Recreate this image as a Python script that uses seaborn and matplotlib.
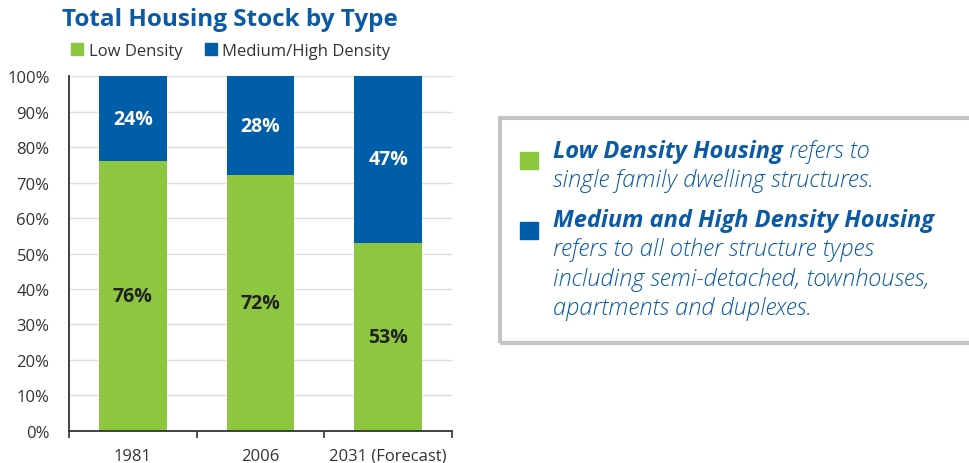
import numpy as np
import pandas as pd
import seaborn as sns
import matplotlib.pyplot as plt
from matplotlib.lines import Line2D
from matplotlib.patches import Rectangle

years = ['1981', '2006', '2031 (Forecast)']
low_density = [76, 72, 53]
med_high_density = [24, 28, 47]

green = '#8dc63f'
blue = '#005da8'
text_blue = '#0b5aa5'

sns.set_style('white')
plt.rcParams['font.family'] = ['Open Sans', 'DejaVu Sans']

df = pd.DataFrame({'year': years, 'low': low_density, 'high': med_high_density})
df['total'] = df['low'] + df['high']

fig = plt.figure(figsize=(9.69, 4.64), dpi=100)
ax = fig.add_axes([0.0712, 0.069, 0.3953, 0.765])

sns.barplot(x='year', y='total', data=df, color=blue, width=0.53, ax=ax,
            saturation=1, zorder=2, linewidth=0)
sns.barplot(x='year', y='low', data=df, color=green, width=0.53, ax=ax,
            saturation=1, zorder=2, linewidth=0)

for i, (lo, hi) in enumerate(zip(low_density, med_high_density)):
    ax.text(i, lo / 2, f'{lo}%', ha='center', va='center', fontsize=14,
            fontweight='bold', color='#222222', zorder=3)
    ax.text(i, lo + hi / 2, f'{hi}%', ha='center', va='center', fontsize=14,
            fontweight='bold', color='white', zorder=3)

ax.set_xlim(-0.5, 2.5)
ax.set_ylim(0, 100)
ax.set_yticks(np.arange(0, 101, 10))
ax.set_yticklabels([f'{v}%' for v in range(0, 101, 10)])
ax.yaxis.grid(True, color='#dddddd', lw=1, zorder=0)
ax.set_axisbelow(True)
ax.set_xlabel('')
ax.set_ylabel('')
ax.set_xticks([-0.5, 0.5, 1.5, 2.5], minor=True)
ax.tick_params(axis='x', which='major', length=0, labelsize=12, colors='#333333', pad=12)
ax.tick_params(axis='x', which='minor', length=5, width=1.2, direction='out', color='#333333', bottom=True)
ax.tick_params(axis='y', length=0, labelsize=12, colors='#333333', pad=14)
for s in ['top', 'right']:
    ax.spines[s].set_visible(False)
for s in ['left', 'bottom']:
    ax.spines[s].set_color('#333333')
    ax.spines[s].set_linewidth(1.3)

fig.text(0.064, 0.957, 'Total Housing Stock by Type', fontsize=17.5, fontweight='bold',
         color=text_blue, ha='left', va='center')

handles = [Line2D([], [], marker='s', ls='', color=green, markersize=8),
           Line2D([], [], marker='s', ls='', color=blue, markersize=8)]
fig.legend(handles, ['Low Density', 'Medium/High Density'], ncol=2, frameon=False,
           loc='center left', bbox_to_anchor=(0.057, 0.888), fontsize=12,
           handletextpad=0.3, columnspacing=1.3, labelcolor='#333333', handlelength=0.8)

# explanation box
fig.patches.append(Rectangle((0.516, 0.258), 0.5, 0.485, transform=fig.transFigure,
                             fill=False, edgecolor='#c4c4c4', lw=3))
fig.patches.append(Rectangle((0.537, 0.634), 0.018, 0.036, transform=fig.transFigure,
                             color=green))
fig.patches.append(Rectangle((0.537, 0.483), 0.018, 0.036, transform=fig.transFigure,
                             color=blue))

x0 = 0.571
fs = 17
plain = dict(fontsize=fs, style='italic', fontweight='light', color=text_blue, va='center')
strong = dict(fontsize=fs, style='italic', fontweight='bold', color=text_blue, va='center')
t1 = fig.text(x0, 1 - 152 / 464, 'Low Density Housing', **strong)
plt.annotate(' refers to', xy=(1, 0.5), xycoords=t1, annotation_clip=False, **plain)
fig.text(x0, 1 - 181 / 464, 'single family dwelling structures.', **plain)
fig.text(x0, 1 - 221 / 464, 'Medium and High Density Housing', **strong)
fig.text(x0, 1 - 250 / 464, 'refers to all other structure types', **plain)
fig.text(x0, 1 - 280 / 464, 'including semi-detached, townhouses,', **plain)
fig.text(x0, 1 - 309 / 464, 'apartments and duplexes.', **plain)

fig.savefig('out.png', dpi=100)
